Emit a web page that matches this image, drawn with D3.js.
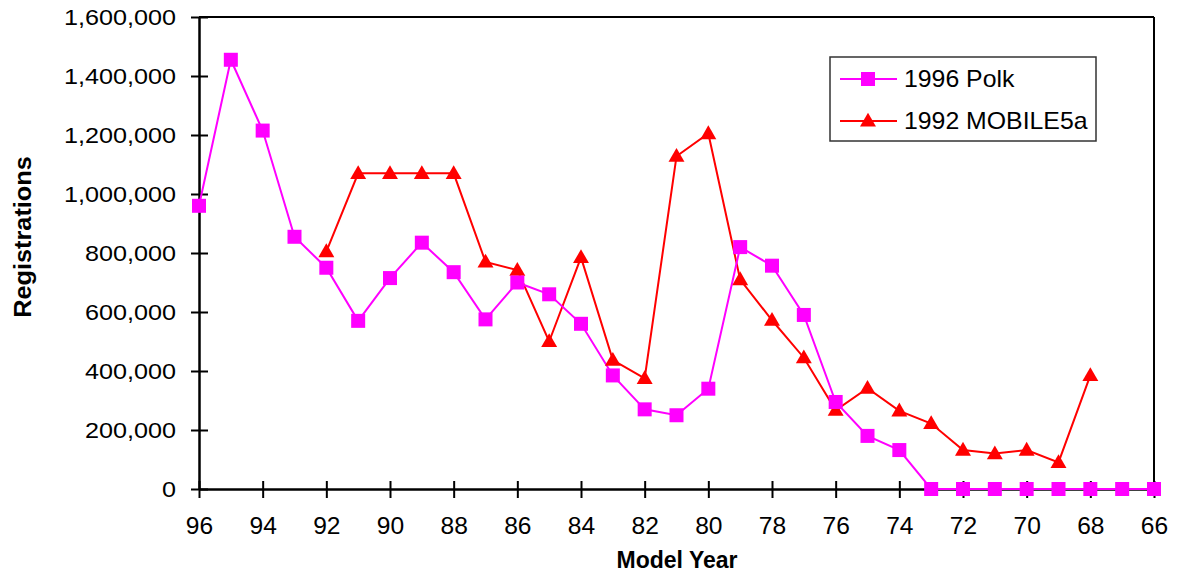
<!DOCTYPE html>
<html><head><meta charset="utf-8">
<script src="https://cdn.jsdelivr.net/npm/d3@7"></script>
<style>
body{margin:0;background:#fff;}
text{font-family:Arial,"Liberation Sans",sans-serif;fill:#000;}
</style></head>
<body><svg id="c" width="1177" height="575"></svg>
<script>
const years = [96,95,94,93,92,91,90,89,88,87,86,85,84,83,82,81,80,79,78,77,76,75,74,73,72,71,70,69,68,67,66];
const polk = [960000,1455000,1215000,855000,750000,570000,715000,835000,735000,575000,700000,660000,560000,385000,270000,250000,340000,820000,757000,590000,295000,180000,132000,0,0,0,0,0,0,0,0];
const mobile = [null,null,null,null,805000,1070000,1070000,1070000,1070000,770000,742000,500000,785000,437000,375000,1128000,1205000,710000,572000,445000,267000,342000,265000,222000,132000,120000,132000,90000,385000,null,null];
const xTicks = [96,94,92,90,88,86,84,82,80,78,76,74,72,70,68,66];
const yTicks = [0,200000,400000,600000,800000,1000000,1200000,1400000,1600000];
const seriesNames = ["1996 Polk","1992 MOBILE5a"];
const seriesColors = ["#FF00FF","#FF0000"];

const svg = d3.select("#c");
const L=199, R=1154, T=17, B=489;
const x = d3.scaleLinear().domain([96,66]).range([L,R]);
const y = d3.scaleLinear().domain([0,1600000]).range([B,T]);
const fmt = d3.format(",");

// frame top & right
svg.append("line").attr("x1",L).attr("x2",R).attr("y1",T).attr("y2",T).attr("stroke","#000").attr("stroke-width",2);
svg.append("line").attr("x1",R).attr("x2",R).attr("y1",T).attr("y2",B).attr("stroke","#000").attr("stroke-width",2);

// y axis
const ya = svg.append("g").attr("transform",`translate(${L},0)`)
  .call(d3.axisLeft(y).tickValues(yTicks).tickFormat(fmt).tickSizeOuter(0));
ya.select(".domain").attr("stroke","#000").attr("stroke-width",2.5);
ya.selectAll(".tick line").attr("x1",-8).attr("x2",9).attr("stroke","#000").attr("stroke-width",2);
ya.selectAll(".tick text").attr("x",0).attr("dy","0.35em").attr("font-size",22.5)
  .attr("font-family","Arial, 'Liberation Sans', sans-serif")
  .attr("transform","translate(-23,0) scale(1.12,1)");

// x axis
const xa = svg.append("g").attr("transform",`translate(0,${B})`)
  .call(d3.axisBottom(x).tickValues(xTicks).tickFormat(d=>d).tickSizeOuter(0));
xa.select(".domain").attr("stroke","#000").attr("stroke-width",2.5);
xa.selectAll(".tick line").attr("y1",-8).attr("y2",9).attr("stroke","#000").attr("stroke-width",2);
xa.selectAll(".tick text").attr("y",0).attr("dy","0.71em").attr("font-size",23)
  .attr("font-family","Arial, 'Liberation Sans', sans-serif")
  .attr("transform","translate(0,29) scale(1.07,1)");

// titles
svg.append("text").attr("x",677).attr("y",568).attr("text-anchor","middle")
  .attr("font-size",23).attr("font-weight","bold").text("Model Year");
svg.append("text").attr("transform","translate(31,237) rotate(-90) scale(1.1,1)").attr("text-anchor","middle")
  .attr("font-size",23).attr("font-weight","bold").text("Registrations");

// lines
const line = d3.line().defined(d=>d[1]!==null).x(d=>x(d[0])).y(d=>y(d[1]));
const polkData = years.map((yr,i)=>[yr,polk[i]]);
const mobData = years.map((yr,i)=>[yr,mobile[i]]);
svg.append("path").datum(mobData).attr("d",line).attr("fill","none").attr("stroke",seriesColors[1]).attr("stroke-width",2);
svg.append("path").datum(polkData).attr("d",line).attr("fill","none").attr("stroke",seriesColors[0]).attr("stroke-width",2);

const tri = d3.symbol().type(d3.symbolTriangle).size(110);
svg.append("g").selectAll("path").data(mobData.filter(d=>d[1]!==null)).join("path")
  .attr("d",tri).attr("transform",d=>`translate(${x(d[0])},${y(d[1])+1})`).attr("fill",seriesColors[1]);
svg.append("g").selectAll("rect").data(polkData).join("rect")
  .attr("x",d=>x(d[0])-7).attr("y",d=>y(d[1])-7).attr("width",14).attr("height",14).attr("fill",seriesColors[0]);

// legend
const lg = svg.append("g");
lg.append("rect").attr("x",830).attr("y",57).attr("width",266).attr("height",84).attr("fill","#fff").attr("stroke","#333").attr("stroke-width",1.5);
const ly = [79,121];
seriesNames.forEach((n,i)=>{
  lg.append("line").attr("x1",840).attr("x2",897).attr("y1",ly[i]).attr("y2",ly[i]).attr("stroke",seriesColors[i]).attr("stroke-width",2);
  if(i===0) lg.append("rect").attr("x",861).attr("y",ly[i]-7).attr("width",14).attr("height",14).attr("fill",seriesColors[0]);
  else lg.append("path").attr("d",tri).attr("transform",`translate(868,${ly[i]+1})`).attr("fill",seriesColors[1]);
  lg.append("text").attr("x",0).attr("y",0).attr("dy","0.35em").attr("font-size",23)
    .attr("transform",`translate(904,${ly[i]}) scale(1.08,1)`).text(n);
});
</script></body></html>
